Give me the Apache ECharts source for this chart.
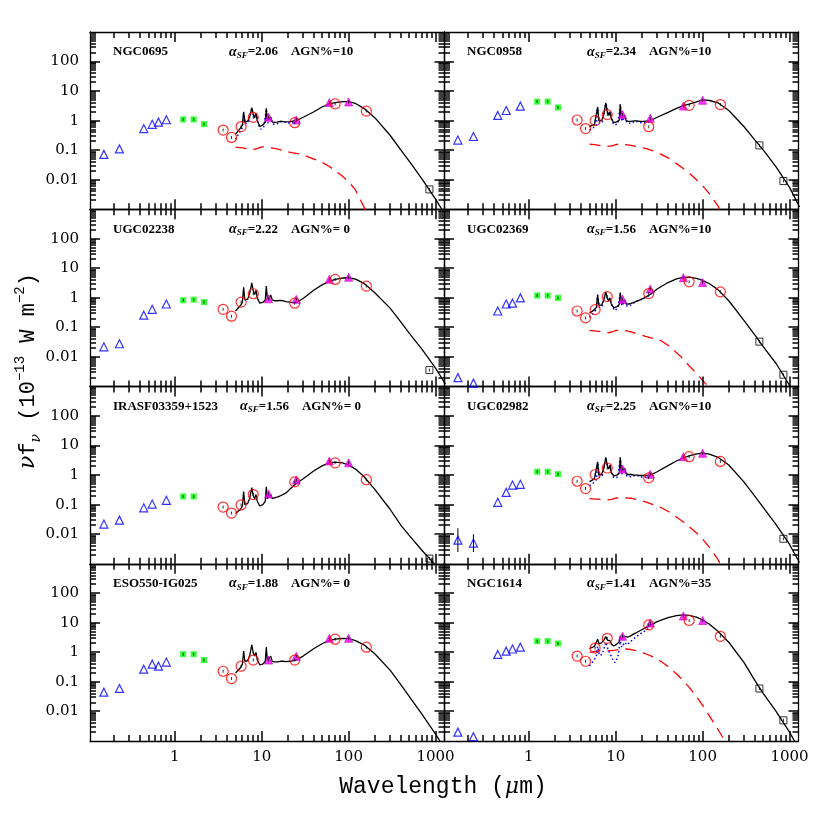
<!DOCTYPE html>
<html><head><meta charset="utf-8">
<script src="https://cdn.jsdelivr.net/npm/echarts/dist/echarts.min.js"></script>
<style>html,body{margin:0;padding:0;background:#fff}#c{width:830px;height:830px}</style>
</head><body><div id="c"></div><script>
// ---------------- DATA ----------------
const panelNames = ['NGC0695','NGC0958','UGC02238','UGC02369','IRASF03359+1523','UGC02982','ESO550-IG025','NGC1614'];
const alphaSF = ['2.06','2.34','2.22','1.56','1.56','2.25','1.88','1.41'];
const agnPct = ['10','10',' 0','10',' 0','10',' 0','35'];

const xTickLabels = [1, 10, 100, 1000];
const yTickLabels = [0.01, 0.1, 1, 10, 100];

const waveUV = [0.153, 0.231];
const waveOpt = [0.44, 0.55, 0.65, 0.80];
const waveNIR = [1.25, 1.65, 2.17];
const waveSpitzer = [3.6, 4.5, 5.8, 8.0, 24, 70, 160];
const waveIRAS = [12, 25, 60, 100];
const waveSubmm = [450, 850];
const modelWave = [5.0, 5.7, 6.0, 6.2, 6.4, 6.9, 7.3, 7.7, 8.0, 8.3, 8.6, 8.9, 9.5, 10.3, 11.0, 11.3, 11.6, 12.0, 12.7, 13.2, 14.0, 15, 16.4, 17.0, 17.5, 19, 21, 25, 30, 40, 50, 60, 70, 85, 100, 120, 150, 200, 300, 400, 500, 700, 1000, 1300];
const agnWave = [5, 6, 7, 8, 9, 10, 11, 12, 13, 15, 18, 22, 27, 33, 40, 50, 60, 70, 85, 100, 120, 150, 180, 220];
const sfWave = [5.0, 5.5, 6.0, 6.2, 6.5, 7.0, 7.7, 8.2, 8.6, 9.2, 9.8, 10.6, 11.3, 11.8, 12.7, 13.5, 15, 17, 20, 25];

// NGC0695
const ngc0695UV = [0.072, 0.11];
const ngc0695Opt = [0.54, 0.75, 0.89, 1.07];
const ngc0695NIR = [1.1, 1.1, 0.76];
const ngc0695Spitzer = [0.48, 0.27, 0.63, 1.29, 0.85, 3.7, 2.1];
const ngc0695IRAS = [1.3, 1.05, 4.1, 4.3];
const ngc0695Submm = [null, 0.0047];
const ngc0695Model = [0.35, 0.56, 0.71, 2.0, 0.89, 0.95, 1.4, 2.75, 1.6, 1.26, 1.8, 1.0, 0.63, 0.71, 0.89, 2.6, 1.0, 0.89, 1.3, 0.89, 0.87, 0.89, 0.95, 1.05, 0.93, 0.91, 0.93, 1.0, 1.3, 2.0, 2.95, 3.7, 4.1, 4.4, 4.4, 3.8, 2.6, 1.26, 0.32, 0.1, 0.042, 0.0105, 0.0022, 0.00063];
const ngc0695AGN = [0.126, 0.12, 0.11, 0.105, 0.115, 0.13, 0.13, 0.125, 0.12, 0.11, 0.095, 0.083, 0.075, 0.062, 0.05, 0.038, 0.028, 0.02, 0.013, 0.0085, 0.0045, 0.0012, 0.0003, 0.00005];
const ngc0695SF = [0.23, 0.38, 0.59, 1.88, 0.78, 0.85, 2.63, 1.23, 1.68, 0.73, 0.51, 0.62, 2.47, 0.83, 1.18, 0.76, 0.78, 0.95, 0.83, 0.92];

// NGC0958
const ngc0958UV = [0.22, 0.29];
const ngc0958Opt = [1.5, 2.2, null, 3.1];
const ngc0958NIR = [4.4, 4.4, 2.8];
const ngc0958Spitzer = [1.05, 0.54, 1.0, 1.6, 0.62, 3.3, 3.5];
const ngc0958IRAS = [1.6, 1.2, 3.1, 4.9];
const ngc0958Submm = [0.145, 0.009];
const ngc0958Model = [0.63, 0.75, 0.85, 2.9, 1.0, 1.0, 1.6, 4.0, 2.0, 1.5, 2.0, 1.2, 0.85, 0.9, 1.05, 3.6, 1.2, 1.05, 1.5, 1.0, 0.95, 0.95, 0.98, 1.1, 0.98, 0.95, 0.95, 1.0, 1.3, 1.9, 2.6, 3.2, 3.6, 4.3, 5.0, 4.8, 4.0, 2.2, 0.62, 0.22, 0.1, 0.027, 0.0055, 0.0012];
const ngc0958AGN = [0.16, 0.15, 0.14, 0.135, 0.14, 0.155, 0.16, 0.16, 0.155, 0.145, 0.13, 0.115, 0.095, 0.073, 0.055, 0.035, 0.024, 0.017, 0.01, 0.0062, 0.0033, 0.0013, 0.0004, 0.0001];
const ngc0958SF = [0.48, 0.57, 0.7, 2.75, 0.85, 0.9, 3.85, 1.55, 1.85, 0.86, 0.71, 0.8, 3.45, 0.95, 1.35, 0.85, 0.8, 0.97, 0.83, 0.89];

// UGC02238
const ugc02238UV = [0.022, 0.028];
const ugc02238Opt = [0.26, 0.41, null, 0.62];
const ugc02238NIR = [0.83, 0.87, 0.72];
const ugc02238Spitzer = [0.41, 0.24, 0.72, 1.38, 0.66, 4.2, 2.5];
const ugc02238IRAS = [0.93, 0.89, 4.3, 5.0];
const ugc02238Submm = [null, 0.0036];
const ugc02238Model = [0.36, 0.55, 0.7, 2.3, 0.85, 0.9, 1.5, 3.2, 1.7, 1.3, 1.8, 1.0, 0.66, 0.7, 0.85, 2.5, 1.0, 0.85, 1.25, 0.85, 0.8, 0.8, 0.82, 0.95, 0.8, 0.75, 0.72, 0.7, 0.95, 1.85, 2.8, 3.6, 4.2, 4.7, 4.8, 4.3, 3.1, 1.5, 0.45, 0.15, 0.063, 0.018, 0.0042, 0.0012];

// UGC02369
const ugc02369UV = [0.002, 0.0013];
const ugc02369Opt = [0.36, 0.62, 0.66, 1.0];
const ugc02369NIR = [1.2, 1.2, 1.0];
const ugc02369Spitzer = [0.36, 0.21, 0.4, 1.1, 1.4, 3.5, 1.6];
const ugc02369IRAS = [0.9, 2.0, 4.8, 3.3];
const ugc02369Submm = [0.033, 0.0025];
const ugc02369Model = [0.3, 0.4, 0.48, 1.3, 0.55, 0.58, 0.85, 1.6, 0.95, 0.8, 1.0, 0.62, 0.47, 0.5, 0.6, 1.5, 0.65, 0.62, 0.85, 0.62, 0.62, 0.65, 0.72, 0.82, 0.78, 0.85, 0.98, 1.3, 2.0, 3.3, 4.4, 4.9, 5.0, 4.6, 3.9, 3.0, 1.9, 0.8, 0.17, 0.055, 0.022, 0.006, 0.0011, 0.0003];
const ugc02369AGN = [0.08, 0.075, 0.07, 0.065, 0.07, 0.078, 0.08, 0.08, 0.078, 0.07, 0.06, 0.05, 0.042, 0.036, 0.025, 0.014, 0.0085, 0.005, 0.0028, 0.0016, 0.0009, 0.0004, 0.00015, 0.00005];
const ugc02369SF = [0.22, 0.3, 0.41, 1.22, 0.47, 0.53, 1.53, 0.78, 0.93, 0.48, 0.37, 0.47, 1.42, 0.54, 0.77, 0.52, 0.58, 0.74, 0.9, 1.25];

// IRASF03359+1523
const irasfUV = [0.022, 0.03];
const irasfOpt = [0.078, 0.105, null, 0.14];
const irasfNIR = [0.19, 0.19, null];
const irasfSpitzer = [0.083, 0.052, 0.098, 0.22, 0.59, 2.6, 0.7];
const irasfIRAS = [0.23, 0.68, 3.0, 2.6];
const irasfSubmm = [null, 0.0015];
const irasfModel = [0.05, 0.07, 0.09, 0.28, 0.1, 0.11, 0.17, 0.38, 0.2, 0.16, 0.22, 0.13, 0.09, 0.1, 0.13, 0.4, 0.16, 0.15, 0.22, 0.16, 0.17, 0.18, 0.2, 0.23, 0.22, 0.25, 0.33, 0.52, 0.75, 1.4, 2.1, 2.6, 2.75, 2.6, 2.2, 1.6, 0.9, 0.33, 0.07, 0.02, 0.009, 0.0028, 0.0009, 0.0003];

// UGC02982
const ugc02982UV = [0.0063, 0.005];
const ugc02982UVLow = [0.0025, 0.0025];
const ugc02982UVHigh = [0.016, 0.01];
const ugc02982Opt = [0.12, 0.26, 0.46, 0.49];
const ugc02982NIR = [1.3, 1.3, 1.08];
const ugc02982Spitzer = [0.62, 0.35, 1.05, 1.74, 0.81, 4.2, 2.9];
const ugc02982IRAS = [1.6, 1.07, 4.2, 5.5];
const ugc02982Submm = [null, 0.007];
const ugc02982Model = [0.6, 0.75, 0.85, 2.8, 1.0, 1.05, 1.7, 4.0, 2.1, 1.6, 2.2, 1.2, 0.95, 1.0, 1.15, 4.0, 1.3, 1.15, 1.7, 1.1, 1.05, 1.05, 1.0, 1.15, 1.0, 0.97, 0.97, 1.0, 1.3, 2.1, 3.0, 3.8, 4.5, 5.2, 5.5, 5.1, 4.0, 2.2, 0.58, 0.19, 0.08, 0.021, 0.0045, 0.0011];
const ugc02982AGN = [0.16, 0.155, 0.15, 0.145, 0.15, 0.165, 0.17, 0.17, 0.17, 0.165, 0.145, 0.125, 0.1, 0.08, 0.06, 0.038, 0.026, 0.018, 0.011, 0.0068, 0.0036, 0.0014, 0.0005, 0.00015];
const ugc02982SF = [0.44, 0.54, 0.7, 2.64, 0.85, 0.95, 3.85, 1.65, 2.05, 0.9, 0.79, 0.88, 3.83, 1.08, 1.53, 0.91, 0.88, 1.0, 0.84, 0.88];

// ESO550-IG025
const eso550UV = [0.045, 0.06];
const eso550Opt = [0.27, 0.4, 0.34, 0.47];
const eso550NIR = [0.87, 0.87, 0.55];
const eso550Spitzer = [0.23, 0.13, 0.34, 0.55, 0.55, 2.8, 1.5];
const eso550IRAS = [0.55, 0.74, 3.0, 3.0];
const eso550Submm = [null, null];
const eso550Model = [0.2, 0.3, 0.4, 1.1, 0.5, 0.52, 0.8, 1.8, 0.95, 0.75, 1.0, 0.55, 0.38, 0.4, 0.5, 1.5, 0.55, 0.5, 0.75, 0.5, 0.48, 0.48, 0.5, 0.55, 0.5, 0.49, 0.5, 0.55, 0.75, 1.35, 2.0, 2.5, 2.8, 2.95, 2.9, 2.5, 1.8, 0.9, 0.25, 0.08, 0.032, 0.008, 0.0017, 0.0005];

// NGC1614
const ngc1614UV = [0.002, 0.0014];
const ngc1614Opt = [0.85, 1.1, 1.3, 1.5];
const ngc1614NIR = [2.4, 2.4, 2.0];
const ngc1614Spitzer = [0.75, 0.5, 1.4, 3.0, 8.5, 12, 3.5];
const ngc1614IRAS = [3.5, 9.8, 17, 12];
const ngc1614Submm = [0.06, 0.005];
const ngc1614Model = [1.35, 1.6, 1.85, 2.8, 2.0, 2.1, 2.6, 3.4, 2.6, 2.3, 2.5, 1.9, 1.65, 1.9, 2.3, 3.6, 2.8, 2.9, 3.5, 3.1, 3.3, 3.7, 4.3, 4.6, 4.7, 5.4, 6.3, 8.2, 11, 15, 17.5, 18.5, 18, 15.5, 12.5, 9, 5.2, 2.2, 0.45, 0.11, 0.04, 0.01, 0.002, 0.0005];
const ngc1614AGN = [1.0, 1.1, 1.15, 1.15, 1.15, 1.2, 1.25, 1.3, 1.3, 1.25, 1.1, 0.9, 0.7, 0.5, 0.33, 0.19, 0.11, 0.065, 0.032, 0.016, 0.007, 0.0025, 0.001, 0.0004];
const ngc1614SF = [0.35, 0.5, 0.75, 1.6, 0.8, 0.85, 2.2, 1.2, 1.3, 0.6, 0.45, 0.7, 2.4, 1.5, 2.2, 1.8, 2.4, 3.3, 4.6, 7.0];

// ---------------- BUILD ----------------
const panels = [
  {uv:ngc0695UV, opt:ngc0695Opt, nir:ngc0695NIR, sp:ngc0695Spitzer, iras:ngc0695IRAS, sub:ngc0695Submm, model:ngc0695Model, agn:ngc0695AGN, sf:ngc0695SF},
  {uv:ngc0958UV, opt:ngc0958Opt, nir:ngc0958NIR, sp:ngc0958Spitzer, iras:ngc0958IRAS, sub:ngc0958Submm, model:ngc0958Model, agn:ngc0958AGN, sf:ngc0958SF},
  {uv:ugc02238UV, opt:ugc02238Opt, nir:ugc02238NIR, sp:ugc02238Spitzer, iras:ugc02238IRAS, sub:ugc02238Submm, model:ugc02238Model, agn:null, sf:null},
  {uv:ugc02369UV, opt:ugc02369Opt, nir:ugc02369NIR, sp:ugc02369Spitzer, iras:ugc02369IRAS, sub:ugc02369Submm, model:ugc02369Model, agn:ugc02369AGN, sf:ugc02369SF},
  {uv:irasfUV, opt:irasfOpt, nir:irasfNIR, sp:irasfSpitzer, iras:irasfIRAS, sub:irasfSubmm, model:irasfModel, agn:null, sf:null},
  {uv:ugc02982UV, opt:ugc02982Opt, nir:ugc02982NIR, sp:ugc02982Spitzer, iras:ugc02982IRAS, sub:ugc02982Submm, model:ugc02982Model, agn:ugc02982AGN, sf:ugc02982SF, uvLo:ugc02982UVLow, uvHi:ugc02982UVHigh},
  {uv:eso550UV, opt:eso550Opt, nir:eso550NIR, sp:eso550Spitzer, iras:eso550IRAS, sub:eso550Submm, model:eso550Model, agn:null, sf:null},
  {uv:ngc1614UV, opt:ngc1614Opt, nir:ngc1614NIR, sp:ngc1614Spitzer, iras:ngc1614IRAS, sub:ngc1614Submm, model:ngc1614Model, agn:ngc1614AGN, sf:ngc1614SF}
];

const L = Math.log10;
const XMIN = -0.975, XMAX = 3.103, YMIN = -3, YMAX = 3;
const gridLeft = [90, 444], gridW = 354.5, gridTop0 = 32, gridH = 177.25;
const alphaOffset = [[139, 143], [139, 143], [150, 143], [139, 143]];
const SERIF = '"DejaVu Serif", serif';
const TSERIF = '"Liberation Serif", "Times New Roman", serif';
const MONO = '"Liberation Mono", "DejaVu Sans Mono", monospace';

function pairs(waves, vals) {
  const out = [];
  waves.forEach((w, i) => { if (vals[i] != null) out.push([L(w), L(vals[i])]); });
  return out;
}
const xMajor = xTickLabels.map(L);
const yMajor = yTickLabels.map(L);
const xMinor = [], yMinor = [];
for (let n = -1; n <= 3; n++) for (let k = 2; k <= 9; k++) { const v = n + L(k); if (v > XMIN && v < XMAX) xMinor.push(v); }
for (let n = -3; n <= 2; n++) for (let k = 2; k <= 9; k++) { const v = n + L(k); if (v > YMIN && v < YMAX) yMinor.push(v); }
const fmt = v => String(Number(Math.pow(10, v).toPrecision(1)));

const grids = [], xAxes = [], yAxes = [], series = [], graphics = [];
function xAx(gi, pos, labels) {
  return {type:'value', gridIndex:gi, min:XMIN, max:XMAX, position:pos,
    axisLine:{show:true, onZero:false, lineStyle:{color:'#000', width:1.3}},
    axisTick:{show:false},
    axisLabel:{show:!!labels, customValues:xMajor, formatter:fmt, color:'#000', fontFamily:SERIF, fontSize:15, margin:9},
    splitLine:{show:false}};
}
function yAx(gi, pos, labels) {
  return {type:'value', gridIndex:gi, min:YMIN, max:YMAX, position:pos,
    axisLine:{show:true, onZero:false, lineStyle:{color:'#000', width:1.3}},
    axisTick:{show:false},
    axisLabel:{show:!!labels, customValues:yMajor, formatter:fmt, color:'#000', fontFamily:SERIF, fontSize:15, margin:11},
    splitLine:{show:false}};
}

panels.forEach((p, i) => {
  const row = Math.floor(i / 2), col = i % 2;
  const left = gridLeft[col], top = gridTop0 + row * gridH;
  grids.push({left:left, top:top, width:gridW, height:gridH, containLabel:false});
  xAxes.push(xAx(i, 'bottom', row === 3), xAx(i, 'top', false));
  yAxes.push(yAx(i, 'left', col === 0), yAx(i, 'right', false));
  const xi = 2 * i, yi = 2 * i;
  const base = {xAxisIndex:xi, yAxisIndex:yi, silent:true, animation:false};
  if (p.agn) series.push(Object.assign({type:'line', data:pairs(agnWave, p.agn), symbol:'none', z:2,
    lineStyle:{color:'#ff0000', width:1.3, type:[11, 7]}}, base));
  if (p.sf) series.push(Object.assign({type:'line', data:pairs(sfWave, p.sf), symbol:'none', z:3,
    lineStyle:{color:'#0000ff', width:1.5, type:[1.5, 2.5]}}, base));
  series.push(Object.assign({type:'line', data:pairs(modelWave, p.model), symbol:'none', z:4,
    lineStyle:{color:'#000', width:1.3}}, base));
  if (p.uvLo) {
    waveUV.forEach((w, k) => series.push(Object.assign({type:'line', data:[[L(w), L(p.uvLo[k])], [L(w), L(p.uvHi[k])]], symbol:'none', z:4,
      lineStyle:{color:'#000', width:1}}, base)));
  }
  series.push(Object.assign({type:'scatter', data:pairs(waveUV, p.uv).concat(pairs(waveOpt, p.opt)), symbol:'triangle', symbolSize:8, z:5,
    itemStyle:{color:'rgba(255,255,255,0)', borderColor:'#0000ff', borderWidth:1.2}}, base));
  series.push(Object.assign({type:'scatter', data:pairs(waveNIR, p.nir), symbol:'rect', symbolSize:6, z:5,
    itemStyle:{color:'#00ff00'}}, base));
  series.push(Object.assign({type:'scatter', data:pairs(waveIRAS, p.iras), symbol:'triangle', symbolSize:8, z:5,
    itemStyle:{color:'#ff00ff', borderColor:'#c000c0', borderWidth:0.8}}, base));
  series.push(Object.assign({type:'scatter', data:pairs(waveSpitzer, p.sp), symbol:'circle', symbolSize:10, z:6,
    itemStyle:{color:'rgba(255,255,255,0)', borderColor:'#ff0000', borderWidth:1.2}}, base));
  series.push(Object.assign({type:'scatter', data:pairs(waveSubmm, p.sub), symbol:'rect', symbolSize:7, z:6,
    itemStyle:{color:'rgba(255,255,255,0)', borderColor:'#000', borderWidth:1}}, base));
  const marks = pairs(waveSpitzer, p.sp).concat(pairs(waveNIR, p.nir), pairs(waveIRAS, p.iras), pairs(waveSubmm, p.sub));
  series.push(Object.assign({type:'scatter', data:marks, symbol:'rect', symbolSize:[1, 3], z:7,
    itemStyle:{color:'#000'}}, base));

  graphics.push({type:'text', x:left + 23, y:top + 20, z:10,
    style:{text:panelNames[i], font:'bold 13px ' + TSERIF, fill:'#000', textVerticalAlign:'middle', verticalAlign:'middle'}});
  graphics.push({type:'text', x:left + alphaOffset[row][col], y:top + 20, z:10,
    style:{text:'{a|α}{s|SF}{n|=' + alphaSF[i] + '    AGN%=' + agnPct[i] + '}', fill:'#000', textVerticalAlign:'middle', verticalAlign:'middle',
      rich:{a:{fontFamily:TSERIF, fontStyle:'italic', fontWeight:'bold', fontSize:14, lineHeight:16},
            s:{fontFamily:TSERIF, fontStyle:'italic', fontWeight:'bold', fontSize:9, verticalAlign:'bottom'},
            n:{fontFamily:TSERIF, fontWeight:'bold', fontSize:13, lineHeight:16}}}});
});

graphics.push({type:'text', x:443, y:787, z:10,
  style:{text:'{m|Wavelength (}{u|μ}{m|m)}', fill:'#000', textAlign:'center', align:'center', textVerticalAlign:'middle', verticalAlign:'middle',
    rich:{m:{fontFamily:MONO, fontSize:23, lineHeight:28}, u:{fontFamily:SERIF, fontStyle:'italic', fontSize:22, lineHeight:28}}}});
graphics.push({type:'text', x:28, y:371, rotation:Math.PI / 2, z:10,
  style:{text:'{g|ν}{m|f}{s|ν}{m| (10}{p|−13}{m| W m}{p|−2}{m|)}', fill:'#000', textAlign:'center', align:'center', textVerticalAlign:'middle', verticalAlign:'middle',
    rich:{m:{fontFamily:MONO, fontSize:22, lineHeight:30}, g:{fontFamily:SERIF, fontStyle:'italic', fontSize:22, lineHeight:30},
          s:{fontFamily:SERIF, fontStyle:'italic', fontSize:14, verticalAlign:'bottom'},
          p:{fontFamily:MONO, fontSize:14, verticalAlign:'top'}}}});

const chart = echarts.init(document.getElementById('c'), null, {renderer:'canvas', width:830, height:830});
chart.setOption({animation:false, backgroundColor:'#fff', grid:grids, xAxis:xAxes, yAxis:yAxes, series:series, graphic:graphics});

// Log-spaced tick marks (major + minor) on all four sides, placed through each grid's axes
const tickEls = [];
panels.forEach((p, i) => {
  const finder = {xAxisIndex:2 * i, yAxisIndex:2 * i};
  const tl = chart.convertToPixel(finder, [XMIN, YMAX]);
  const br = chart.convertToPixel(finder, [XMAX, YMIN]);
  const x0 = tl[0], y0 = tl[1], x1 = br[0], y1 = br[1];
  const addX = (v, len) => {
    const px = Math.round(chart.convertToPixel(finder, [v, YMIN])[0]);
    tickEls.push({type:'line', silent:true, z:9, shape:{x1:px, y1:y1, x2:px, y2:y1 - len}, style:{stroke:'#000', lineWidth:1.5}});
    tickEls.push({type:'line', silent:true, z:9, shape:{x1:px, y1:y0, x2:px, y2:y0 + len}, style:{stroke:'#000', lineWidth:1.5}});
  };
  const addY = (v, len) => {
    const py = Math.round(chart.convertToPixel(finder, [XMIN, v])[1]);
    tickEls.push({type:'line', silent:true, z:9, shape:{x1:x0, y1:py, x2:x0 + len, y2:py}, style:{stroke:'#000', lineWidth:1.5}});
    tickEls.push({type:'line', silent:true, z:9, shape:{x1:x1, y1:py, x2:x1 - len, y2:py}, style:{stroke:'#000', lineWidth:1.5}});
  };
  xMajor.forEach(v => addX(v, 10));
  xMinor.forEach(v => addX(v, 6));
  yMajor.forEach(v => addY(v, 10));
  yMinor.forEach(v => addY(v, 6));
});
chart.setOption({graphic:{elements:graphics.concat(tickEls)}});
</script></body></html>
